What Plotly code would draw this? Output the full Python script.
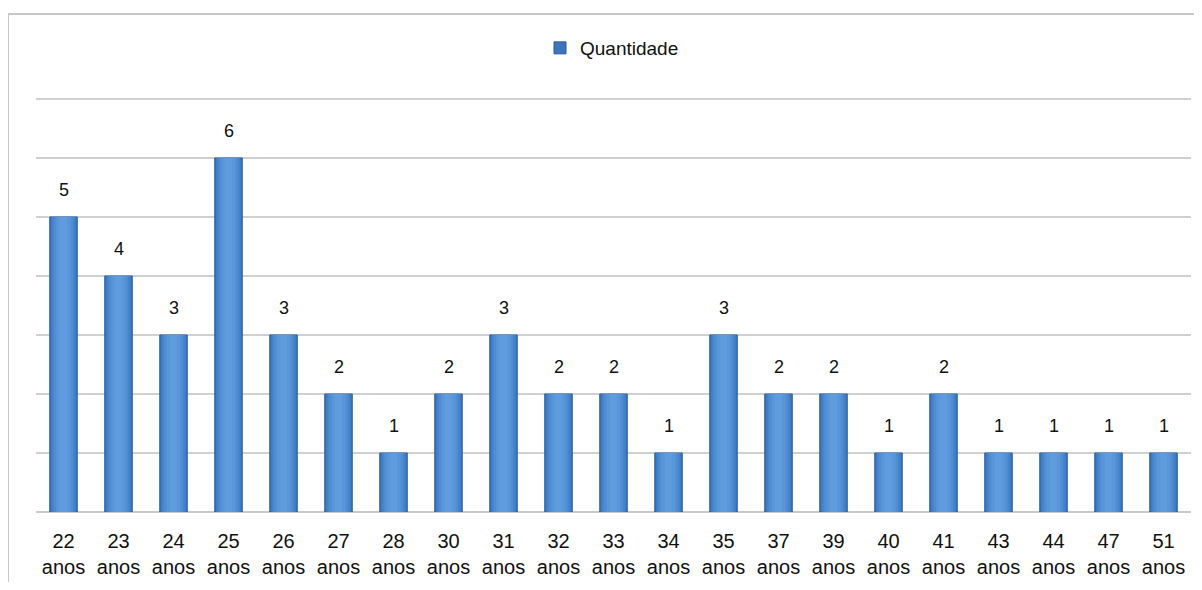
import plotly.graph_objects as go

idades = ["22", "23", "24", "25", "26", "27", "28", "30", "31", "32", "33",
          "34", "35", "37", "39", "40", "41", "43", "44", "47", "51"]
quantidade = [5, 4, 3, 6, 3, 2, 1, 2, 3, 2, 2, 1, 3, 2, 2, 1, 2, 1, 1, 1, 1]
rotulos = [f"{i}<br>anos" for i in idades]

# a página tem 8px de margem no body; a figura é ajustada para compensar
W, H = 1186, 574
ML, MR, MT, MB = 28, 3, 88, 70
pw, ph = W - ML - MR, H - MT - MB

fig = go.Figure()
# camadas sobrepostas para imitar o degradê horizontal das barras
fig.add_trace(go.Bar(
    x=rotulos, y=quantidade, name="Quantidade", width=0.5,
    marker=dict(color="#3A75BD", line=dict(color="#2B5E9F", width=1)),
))
camadas = [(0.44, "#4581C8"), (0.36, "#4F8DD2"), (0.26, "#5896D9"), (0.14, "#5E9CDD")]
for w, cor in camadas:
    fig.add_trace(go.Bar(
        x=rotulos, y=quantidade, width=w, showlegend=False, hoverinfo="skip",
        marker=dict(color=cor, line=dict(width=0)),
    ))

for r, v in zip(rotulos, quantidade):
    fig.add_annotation(x=r, y=v, text=str(v), showarrow=False, yanchor="bottom",
                       yshift=15, font=dict(size=18, color="#111"))

# moldura do gráfico
fig.add_shape(type="rect", xref="paper", yref="paper",
              x0=(0 - ML) / pw, x1=(W + 10 - ML) / pw,
              y0=(MT + ph - H - 10) / ph, y1=(MT + ph - 6) / ph,
              line=dict(color="#C8C8C8", width=2), layer="below")

fig.update_layout(
    width=W, height=H,
    margin=dict(l=ML, r=MR, t=MT, b=MB, autoexpand=False),
    barmode="overlay",
    plot_bgcolor="white", paper_bgcolor="white",
    font=dict(family="Liberation Sans, Arial, sans-serif", color="#111"),
    showlegend=True,
    legend=dict(orientation="h", x=(604 - ML) / pw, xanchor="center",
                y=(MT + ph - 40) / ph, yanchor="middle",
                font=dict(size=19, color="#111"), itemwidth=30),
    xaxis=dict(showgrid=False, tickfont=dict(size=20, color="#111"),
               ticks="", showline=False, ticklabelstandoff=15),
    yaxis=dict(range=[0, 7.05], dtick=1, showticklabels=False,
               gridcolor="#D0D0D0", gridwidth=2, zeroline=True,
               zerolinecolor="#C8C8C8", zerolinewidth=2),
)

fig.write_html("out.html")
